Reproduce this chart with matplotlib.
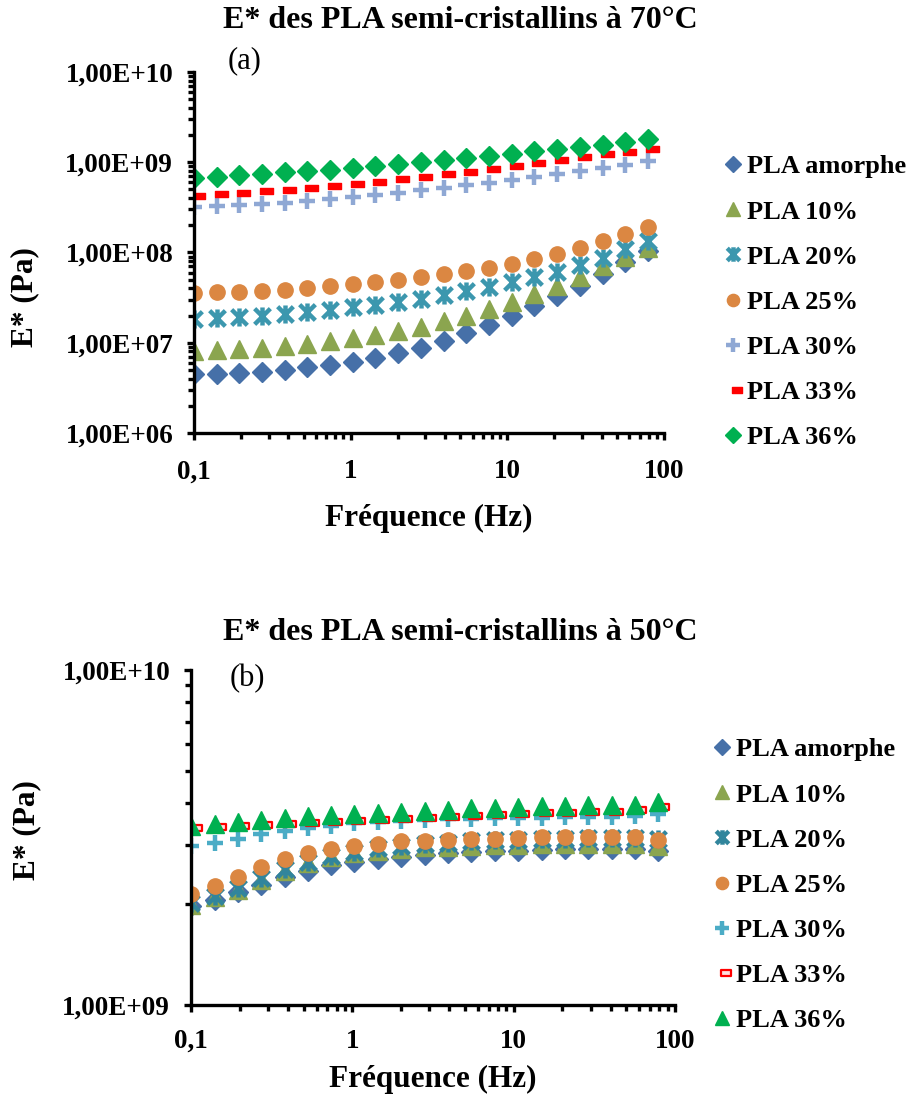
import numpy as np
import matplotlib
matplotlib.use("Agg")
import matplotlib.pyplot as plt
from matplotlib.path import Path
from matplotlib.ticker import FixedLocator, LogLocator, NullFormatter, FuncFormatter

plt.rcParams['font.family'] = ['Liberation Serif', 'DejaVu Serif']
plt.rcParams['font.weight'] = 'bold'

# fréquences (Hz)
freq = [0.100, 0.140, 0.195, 0.272, 0.380, 0.530, 0.740, 1.03, 1.44, 2.01, 2.81,
        3.92, 5.47, 7.64, 10.7, 14.9, 20.8, 29.0, 40.5, 56.5, 78.9]

labels = ['PLA amorphe', 'PLA 10%', 'PLA 20%', 'PLA 25%', 'PLA 30%', 'PLA 33%', 'PLA 36%']

# E* à 70°C (Pa)
e70_amorphe = [4.49e6, 4.53e6, 4.60e6, 4.80e6, 5.01e6, 5.32e6, 5.60e6, 6.15e6, 6.76e6, 7.68e6, 8.81e6,
               1.04e7, 1.27e7, 1.59e7, 2.00e7, 2.54e7, 3.27e7, 4.30e7, 5.85e7, 7.81e7, 1.04e8]
e70_10 = [8.0e6, 8.35e6, 8.5e6, 8.8e6, 9.2e6, 9.75e6, 1.04e7, 1.12e7, 1.22e7, 1.35e7, 1.49e7,
          1.76e7, 2.0e7, 2.37e7, 2.81e7, 3.44e7, 4.3e7, 5.4e7, 7.0e7, 8.95e7, 1.13e8]
e70_20 = [1.83e7, 1.88e7, 1.93e7, 2.0e7, 2.08e7, 2.19e7, 2.31e7, 2.47e7, 2.64e7, 2.86e7, 3.08e7,
          3.39e7, 3.75e7, 4.16e7, 4.69e7, 5.37e7, 6.15e7, 7.24e7, 8.74e7, 1.08e8, 1.34e8]
e70_25 = [3.53e7, 3.63e7, 3.69e7, 3.79e7, 3.88e7, 4.02e7, 4.23e7, 4.45e7, 4.69e7, 4.97e7, 5.32e7,
          5.75e7, 6.21e7, 6.82e7, 7.55e7, 8.51e7, 9.67e7, 1.13e8, 1.33e8, 1.59e8, 1.93e8]
e70_30 = [3.19e8, 3.25e8, 3.33e8, 3.42e8, 3.57e8, 3.72e8, 3.92e8, 4.12e8, 4.34e8, 4.61e8, 4.93e8,
          5.23e8, 5.60e8, 5.94e8, 6.37e8, 6.82e8, 7.36e8, 8.02e8, 8.66e8, 9.43e8, 1.03e9]
e70_33 = [4.27e8, 4.42e8, 4.57e8, 4.76e8, 4.97e8, 5.19e8, 5.46e8, 5.79e8, 6.09e8, 6.47e8, 6.87e8,
          7.36e8, 7.88e8, 8.44e8, 9.11e8, 9.75e8, 1.05e9, 1.13e9, 1.22e9, 1.31e9, 1.42e9]
e70_36 = [6.76e8, 6.93e8, 7.18e8, 7.49e8, 7.75e8, 7.95e8, 8.29e8, 8.66e8, 9.11e8, 9.59e8, 1.01e9,
          1.06e9, 1.11e9, 1.18e9, 1.25e9, 1.33e9, 1.40e9, 1.47e9, 1.56e9, 1.67e9, 1.80e9]

# E* à 50°C (Pa)
e50_amorphe = [1.97e9, 2.06e9, 2.17e9, 2.28e9, 2.41e9, 2.52e9, 2.61e9, 2.68e9, 2.73e9, 2.77e9, 2.81e9,
               2.84e9, 2.86e9, 2.88e9, 2.89e9, 2.90e9, 2.92e9, 2.93e9, 2.93e9, 2.92e9, 2.89e9]
e50_10 = [1.99e9, 2.10e9, 2.21e9, 2.36e9, 2.52e9, 2.65e9, 2.76e9, 2.84e9, 2.89e9, 2.93e9, 2.96e9,
          2.97e9, 2.98e9, 3.00e9, 3.01e9, 3.02e9, 3.03e9, 3.03e9, 3.03e9, 3.02e9, 2.98e9]
e50_20 = [2.01e9, 2.11e9, 2.23e9, 2.39e9, 2.54e9, 2.68e9, 2.79e9, 2.87e9, 2.94e9, 2.98e9, 3.03e9,
          3.05e9, 3.08e9, 3.10e9, 3.11e9, 3.13e9, 3.14e9, 3.15e9, 3.15e9, 3.15e9, 3.14e9]
e50_25 = [2.15e9, 2.27e9, 2.41e9, 2.58e9, 2.72e9, 2.84e9, 2.93e9, 2.99e9, 3.03e9, 3.08e9, 3.09e9,
          3.11e9, 3.13e9, 3.14e9, 3.16e9, 3.17e9, 3.17e9, 3.17e9, 3.17e9, 3.17e9, 3.11e9]
e50_30 = [2.99e9, 3.05e9, 3.14e9, 3.24e9, 3.31e9, 3.37e9, 3.43e9, 3.49e9, 3.52e9, 3.55e9, 3.57e9,
          3.58e9, 3.60e9, 3.61e9, 3.61e9, 3.62e9, 3.63e9, 3.63e9, 3.65e9, 3.66e9, 3.72e9]
e50_33 = [3.38e9, 3.41e9, 3.42e9, 3.45e9, 3.48e9, 3.50e9, 3.52e9, 3.55e9, 3.57e9, 3.60e9, 3.62e9,
          3.65e9, 3.67e9, 3.69e9, 3.71e9, 3.73e9, 3.74e9, 3.76e9, 3.78e9, 3.81e9, 3.91e9]
e50_36 = [3.42e9, 3.46e9, 3.52e9, 3.57e9, 3.61e9, 3.66e9, 3.69e9, 3.72e9, 3.75e9, 3.78e9, 3.80e9,
          3.83e9, 3.86e9, 3.88e9, 3.91e9, 3.93e9, 3.94e9, 3.95e9, 3.95e9, 3.95e9, 4.05e9]

# marqueurs type Excel
star = Path([(-1, -1), (1, 1), (-1, 1), (1, -1), (0, -1.15), (0, 1.15)],
            [Path.MOVETO, Path.LINETO, Path.MOVETO, Path.LINETO, Path.MOVETO, Path.LINETO])
dash = Path([(-0.15, -0.3), (1.0, -0.3), (1.0, 0.3), (-0.15, 0.3), (-0.15, -0.3)],
            [Path.MOVETO, Path.LINETO, Path.LINETO, Path.LINETO, Path.CLOSEPOLY])

styles_70 = [
    dict(marker='D', ms=10.5, color='#4670A8', mec='#4670A8'),
    dict(marker='^', ms=12.5, color='#8BA54F', mec='#8BA54F'),
    dict(marker=star, ms=13, mfc='none', mec='#3C97AE', mew=3.2),
    dict(marker='o', ms=11, color='#DB8742', mec='#DB8742'),
    dict(marker='+', ms=12, mec='#8FA8D4', mew=3.2),
    dict(marker=dash, ms=16, color='#FF0000', mec='#FF0000', mew=1),
    dict(marker='D', ms=10.5, color='#00B050', mec='#00B050'),
]
styles_50 = [
    dict(marker='D', ms=10.5, color='#4670A8', mec='#4670A8'),
    dict(marker='^', ms=12.5, color='#8BA54F', mec='#8BA54F'),
    dict(marker=star, ms=13, mfc='none', mec='#31859C', mew=3.2),
    dict(marker='o', ms=11, color='#DB8742', mec='#DB8742'),
    dict(marker='+', ms=12, mec='#4BACC6', mew=3.2),
    dict(marker=dash, ms=16, mfc='#FFE0E0', mec='#FF0000', mew=1.6),
    dict(marker='^', ms=12.5, color='#00B050', mec='#00B050'),
]

W, H = 906, 1097
fig = plt.figure(figsize=(W / 100, H / 100), dpi=100)
ax1 = fig.add_axes([194 / W, 1 - 433 / H, (664 - 194) / W, (433 - 72) / H])
ax2 = fig.add_axes([191 / W, 1 - 1005 / H, (675 - 191) / W, (1005 - 670) / H])


def sci_fr(v, pos):
    return '1,00E+%02d' % int(round(np.log10(v)))


def freq_fr(v, pos):
    return {0.1: '0,1', 1: '1', 10: '10', 100: '100'}.get(v, '')


def draw(ax, series, styles, ylim, xpad, lpad):
    for y, lab, st in zip(series, labels, styles):
        ax.plot(freq, y, linestyle='none', label=lab, **st)
    ax.set_xscale('log')
    ax.set_yscale('log')
    ax.set_xlim(0.1, 100)
    ax.set_ylim(*ylim)
    for s in ['top', 'right']:
        ax.spines[s].set_visible(False)
    for s in ['left', 'bottom']:
        ax.spines[s].set_linewidth(2.4)
    ax.xaxis.set_major_locator(FixedLocator([0.1, 1, 10, 100]))
    ax.xaxis.set_major_formatter(FuncFormatter(freq_fr))
    ax.xaxis.set_minor_locator(LogLocator(base=10, subs=range(2, 10)))
    ax.xaxis.set_minor_formatter(NullFormatter())
    ax.yaxis.set_major_locator(LogLocator(base=10, numticks=20))
    ax.yaxis.set_major_formatter(FuncFormatter(sci_fr))
    ax.yaxis.set_minor_locator(LogLocator(base=10, subs=range(2, 10), numticks=20))
    ax.yaxis.set_minor_formatter(NullFormatter())
    ax.tick_params(which='both', direction='out', width=2.4, labelsize=19.5)
    ax.tick_params(which='major', length=5)
    ax.tick_params(which='minor', length=4)
    ax.tick_params(axis='x', pad=xpad)
    ax.tick_params(axis='y', pad=10)
    ax.set_xlabel('Fréquence (Hz)', fontsize=22.5, fontweight='bold', labelpad=lpad)
    ax.patch.set_alpha(0)


draw(ax1, [e70_amorphe, e70_10, e70_20, e70_25, e70_30, e70_33, e70_36], styles_70,
     (1e6, 1e10), 14, 14)
draw(ax2, [e50_amorphe, e50_10, e50_20, e50_25, e50_30, e50_33, e50_36], styles_50,
     (1e9, 1e10), 12, 8)

fig.text(245 / W, 1 - 61 / H, '(a)', fontsize=22, fontweight='normal', ha='center', va='center')
fig.text(247 / W, 1 - 679 / H, '(b)', fontsize=22, fontweight='normal', ha='center', va='center')
fig.text(460 / W, 1 - 20 / H, 'E* des PLA semi-cristallins à 70°C', fontsize=23, fontweight='bold',
         ha='center', va='center')
fig.text(460 / W, 1 - 633 / H, 'E* des PLA semi-cristallins à 50°C', fontsize=23, fontweight='bold',
         ha='center', va='center')
fig.text(25 / W, 1 - 297 / H, 'E* (Pa)', fontsize=22.5, fontweight='bold', rotation=90,
         ha='center', va='center')
fig.text(27 / W, 1 - 830 / H, 'E* (Pa)', fontsize=22.5, fontweight='bold', rotation=90,
         ha='center', va='center')

for ax, x0, yc in [(ax1, 722 / W, 1 - 302 / H), (ax2, 711 / W, 1 - 885 / H)]:
    ax.legend(loc='center left', bbox_to_anchor=(x0, yc), bbox_transform=fig.transFigure,
              frameon=False, prop={'size': 19, 'weight': 'bold'}, markerscale=0.8,
              handlelength=0.8, handletextpad=0.15, labelspacing=0.82, borderpad=0,
              borderaxespad=0)

fig.savefig('out.png', dpi=100)
